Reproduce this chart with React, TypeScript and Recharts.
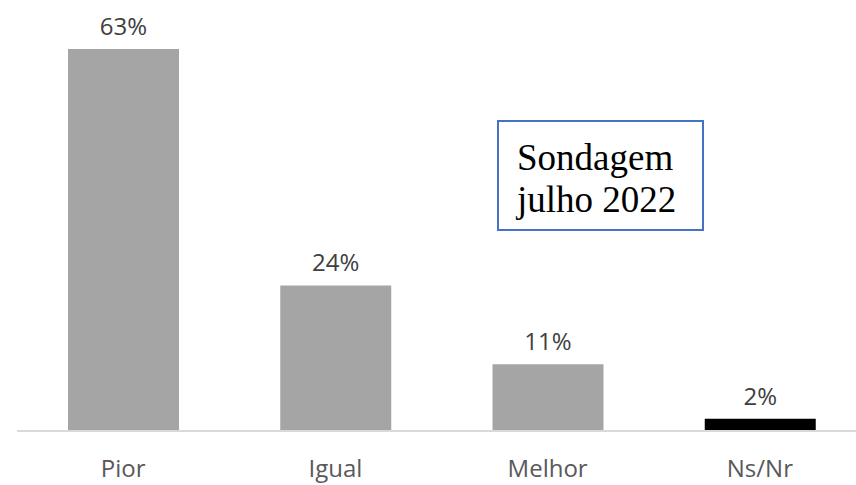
import React from 'react';
import { BarChart, Bar, XAxis, YAxis, Cell, LabelList } from 'recharts';

const categories = ['Pior', 'Igual', 'Melhor', 'Ns/Nr'];
const shares = [63, 24, 11, 2];
const barColors = ['#a5a5a5', '#a5a5a5', '#a5a5a5', '#000000'];

const data = categories.map((c, i) => ({ name: c, value: shares[i] }));

export default function App() {
  return (
    <div style={{ position: 'absolute', left: 0, top: 0, width: 856, height: 485, background: '#fff', overflow: 'hidden' }}>
      <BarChart
        width={856}
        height={485}
        data={data}
        margin={{ top: 49, right: -10, bottom: 0, left: 17 }}
        barCategoryGap={0}
        style={{ overflow: 'hidden' }}
      >
        <YAxis hide domain={[0, 63]} />
        <XAxis
          dataKey="name"
          height={54}
          tickLine={false}
          tickSize={0}
          tickMargin={29}
          axisLine={{ stroke: '#d9d9d9', strokeWidth: 2 }}
          tick={{ fill: '#595959', fontSize: 24, fontFamily: 'Open Sans, Noto Sans, sans-serif' }}
        />
        <Bar dataKey="value" barSize={111} isAnimationActive={false}>
          {data.map((d, i) => (
            <Cell key={d.name} fill={barColors[i]} />
          ))}
          <LabelList
            dataKey="value"
            position="top"
            offset={14}
            formatter={(v: any) => `${v}%`}
            style={{ fill: '#404040', fontSize: 24, fontFamily: 'Open Sans, Noto Sans, sans-serif' }}
          />
        </Bar>
      </BarChart>
      <div
        style={{
          position: 'absolute',
          left: 497,
          top: 120,
          width: 207,
          height: 111,
          border: '2px solid #4472c4',
          fontFamily: 'Liberation Serif, Times New Roman, serif',
          fontSize: 37,
          lineHeight: '42px',
          color: '#000',
          padding: '15px 0 0 18px',
          boxSizing: 'border-box',
        }}
      >
        Sondagem
        <br />
        julho 2022
      </div>
    </div>
  );
}
